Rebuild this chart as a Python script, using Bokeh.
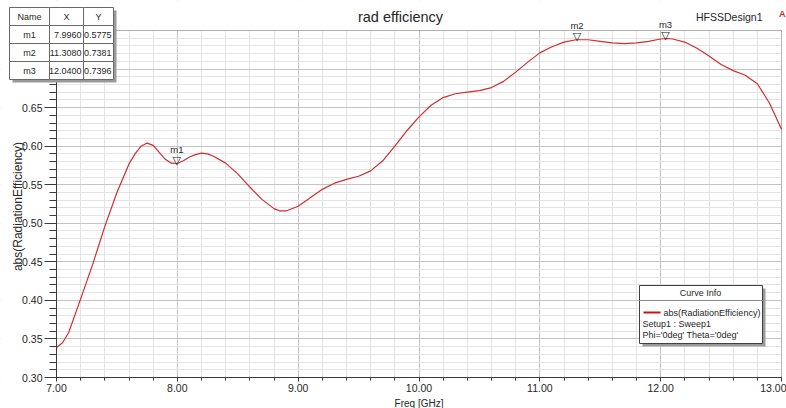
import numpy as np
from bokeh.plotting import figure
from bokeh.models import (Range1d, SingleIntervalTicker, NumeralTickFormatter, Label,
                          LabelSet, BoxAnnotation, ColumnDataSource)
from bokeh.embed import file_html
from bokeh.resources import INLINE
from bokeh.core.properties import value

# ---------------- data ----------------
freq_ghz = [7.0, 7.05, 7.1, 7.2, 7.3, 7.4, 7.5, 7.6, 7.65, 7.7, 7.75, 7.8, 7.85, 7.9, 7.95,
            8.0, 8.05, 8.1, 8.15, 8.2, 8.25, 8.3, 8.4, 8.5, 8.6, 8.7, 8.8, 8.85, 8.9, 9.0,
            9.1, 9.2, 9.3, 9.4, 9.5, 9.6, 9.7, 9.8, 9.9, 10.0, 10.1, 10.2, 10.3, 10.4, 10.5,
            10.6, 10.7, 10.8, 10.9, 11.0, 11.1, 11.2, 11.3, 11.4, 11.5, 11.6, 11.7, 11.8,
            11.9, 12.0, 12.05, 12.1, 12.2, 12.3, 12.4, 12.5, 12.6, 12.7, 12.8, 12.9, 13.0]
rad_eff = [0.339, 0.345, 0.358, 0.402, 0.447, 0.496, 0.540, 0.577, 0.590, 0.600, 0.604, 0.601,
           0.592, 0.583, 0.578, 0.5775, 0.581, 0.586, 0.589, 0.591, 0.590, 0.587, 0.578, 0.564,
           0.547, 0.531, 0.519, 0.516, 0.516, 0.522, 0.533, 0.544, 0.552, 0.557, 0.561, 0.568,
           0.581, 0.600, 0.620, 0.638, 0.653, 0.663, 0.668, 0.670, 0.672, 0.676, 0.684, 0.696,
           0.709, 0.721, 0.729, 0.735, 0.738, 0.738, 0.736, 0.734, 0.733, 0.734, 0.736, 0.739,
           0.7396, 0.739, 0.735, 0.727, 0.717, 0.706, 0.698, 0.692, 0.681, 0.656, 0.622]

marker_names = ["m1", "m2", "m3"]
marker_freq = [7.9960, 11.3080, 12.0400]
marker_eff = [0.5775, 0.7381, 0.7396]
table_header = ["Name", "X", "Y"]

title_text = "rad efficiency"
design_name = "HFSSDesign1"
legend_title = "Curve Info"
legend_lines = ["abs(RadiationEfficiency)", "Setup1 : Sweep1", "Phi='0deg' Theta='0deg'"]
x_label = "Freq [GHz]"
y_label = "abs(RadiationEfficiency)"

# ---------------- layout ----------------
W, H = 786, 408
L, R, T, B = 56, 781, 30, 377          # data-area edges on the canvas
X0, X1, Y0, Y1 = 7.0, 13.0, 0.30, 0.75
FONT = "Liberation Sans"
TXT = "#262626"


def xd(px):
    return X0 + (px - L) * (X1 - X0) / (R - L)


def yd(py):
    return Y0 + (B - py) * (Y1 - Y0) / (B - T)


KY = (Y1 - Y0) / (B - T)  # data units per pixel (y)

p = figure(width=W, height=H, output_backend="svg", toolbar_location=None, title=None,
           x_range=Range1d(xd(0), xd(W)), y_range=Range1d(yd(H), yd(0)),
           min_border=0, min_border_left=0, min_border_right=0, min_border_top=0,
           min_border_bottom=0)
p.background_fill_color = "white"
p.border_fill_color = "white"
p.outline_line_color = None

xt = SingleIntervalTicker(interval=1, num_minor_ticks=5)
yt = SingleIntervalTicker(interval=0.05, num_minor_ticks=5)
p.xaxis.ticker = xt
p.yaxis.ticker = yt
p.xgrid.ticker = xt
p.ygrid.ticker = yt
p.xaxis.formatter = NumeralTickFormatter(format="0.00")
p.yaxis.formatter = NumeralTickFormatter(format="0.00")
p.xaxis.fixed_location = Y0
p.yaxis.fixed_location = X0
p.xaxis.bounds = (X0, X1)
p.yaxis.bounds = (Y0, Y1)

for ax in (p.xaxis, p.yaxis):
    ax.axis_line_color = "#3a3a3a"
    ax.major_tick_line_color = "#3a3a3a"
    ax.minor_tick_line_color = "#3a3a3a"
    ax.major_tick_in = 0
    ax.minor_tick_in = 0
    ax.major_label_text_font = FONT
    ax.major_label_text_font_size = "10.5px"
    ax.major_label_text_color = TXT
p.xaxis.major_tick_out = 4
p.xaxis.minor_tick_out = 3
p.xaxis.major_label_standoff = 2
p.yaxis.major_tick_out = 12
p.yaxis.minor_tick_out = 7
p.yaxis.major_label_standoff = 2

for g in (p.xgrid, p.ygrid):
    g.grid_line_color = "#c4c4c4"
    g.minor_grid_line_color = "#e4e4e4"

# white masks so the grid stays inside the data area
for kw in (dict(right=X0), dict(left=X1), dict(bottom=Y1), dict(top=Y0)):
    p.add_layout(BoxAnnotation(level="underlay", fill_color="white", fill_alpha=1.0,
                               line_alpha=0.0, **kw))

# curve
p.line(freq_ghz, rad_eff, line_color="#d42c2c", line_width=1.2)

# data-area border
p.add_layout(BoxAnnotation(level="glyph", left=X0, right=X1, top=Y1, bottom=Y0,
                           fill_alpha=0.0, line_color="#3a3a3a", line_width=1))

# markers
msrc = ColumnDataSource(dict(x=marker_freq, y=marker_eff, name=marker_names,
                             tri=["\u25bd"] * len(marker_names),
                             ylab=[v + 11 * KY for v in marker_eff]))
p.add_layout(LabelSet(x="x", y="y", text="tri", source=msrc, text_align="center",
                      text_baseline="alphabetic", text_font=value("DejaVu Sans"),
                      text_font_size=value("11px"), text_color="#222222"))
p.add_layout(LabelSet(x="x", y="ylab", text="name", source=msrc, text_align="center",
                      text_baseline="alphabetic", text_font=value(FONT),
                      text_font_size=value("9.5px"), text_color=TXT))

# axis labels & titles
p.add_layout(Label(x=(X0 + X1) / 2, y=yd(403), text=x_label, text_align="center",
                   text_baseline="alphabetic", text_font=FONT, text_font_size="10px",
                   text_color=TXT))
p.add_layout(Label(x=xd(17), y=yd(206), text=y_label, angle=np.pi / 2, text_align="center",
                   text_baseline="middle", text_font=FONT, text_font_size="12px",
                   text_color=TXT))
p.add_layout(Label(x=xd(400), y=yd(16), text=title_text, text_align="center",
                   text_baseline="middle", text_font=FONT, text_font_size="14.5px",
                   text_color=TXT))
p.add_layout(Label(x=xd(762), y=yd(16), text=design_name, text_align="right",
                   text_baseline="middle", text_font=FONT, text_font_size="10.5px",
                   text_color=TXT))
p.add_layout(Label(x=xd(785), y=yd(13), text="A", text_align="right",
                   text_baseline="middle", text_font=FONT, text_font_size="9px",
                   text_font_style="bold", text_color="#c0302a"))


def box(l, r, t, b, fill="white", line="#505050", lw=1):
    return BoxAnnotation(left=xd(l), right=xd(r), top=yd(t), bottom=yd(b),
                         fill_color=fill if fill else "white",
                         fill_alpha=1.0 if fill else 0.0,
                         line_color=line if line else "white",
                         line_alpha=1.0 if line else 0.0, line_width=lw)


# marker table
col_edges = [9, 49, 83, 113]
row_edges = [7, 25, 43, 61, 79]
p.add_layout(box(col_edges[0] + 3, col_edges[-1] + 3, row_edges[0] + 3, row_edges[-1] + 3,
                 fill="#9a9a9a", line=None))
for ri in range(4):
    for ci in range(3):
        p.add_layout(box(col_edges[ci], col_edges[ci + 1], row_edges[ri], row_edges[ri + 1],
                         fill="white", line="#6a6a6a"))
rows = [table_header] + [[n, f"{x:.4f}", f"{y:.4f}"]
                         for n, x, y in zip(marker_names, marker_freq, marker_eff)]
for ri, row in enumerate(rows):
    ymid = (row_edges[ri] + row_edges[ri + 1]) / 2
    for ci, txt in enumerate(row):
        if ri == 0 or ci == 0:
            xx, al = (col_edges[ci] + col_edges[ci + 1]) / 2, "center"
        else:
            xx, al = col_edges[ci + 1] - 2, "right"
        p.add_layout(Label(x=xd(xx), y=yd(ymid), text=txt, text_align=al,
                           text_baseline="middle", text_font=FONT, text_font_size="9px",
                           text_color=TXT))

# curve info box
p.add_layout(box(642, 765, 288, 346, fill="#9a9a9a", line=None))
p.add_layout(box(639, 762, 285, 343, fill="white", line="#404040"))
p.add_layout(box(639, 762, 300, 300, fill=None, line="#8a8a8a"))
p.add_layout(box(643, 660, 311, 313, fill="#cc1010", line=None))
p.add_layout(Label(x=xd(700), y=yd(292.5), text=legend_title, text_align="center",
                   text_baseline="middle", text_font=FONT, text_font_size="9px",
                   text_color=TXT))
p.add_layout(Label(x=xd(663), y=yd(312), text=legend_lines[0], text_align="left",
                   text_baseline="middle", text_font=FONT, text_font_size="9px",
                   text_color=TXT))
for i, t in enumerate(legend_lines[1:]):
    p.add_layout(Label(x=xd(642), y=yd(323 + 11 * i), text=t, text_align="left",
                       text_baseline="middle", text_font=FONT, text_font_size="9px",
                       text_color=TXT))

open("out.html", "w").write(file_html(p, INLINE))
